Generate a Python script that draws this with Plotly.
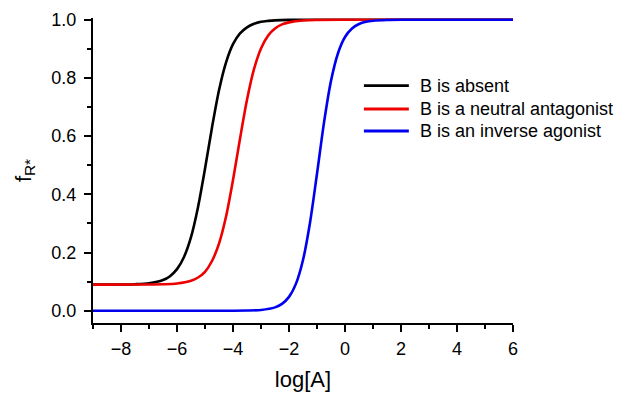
import plotly.graph_objects as go

# Values
x_black = [-9, -8, -7.5, -7, -6.5, -6.25, -6, -5.75, -5.5, -5.25, -5, -4.75, -4.5, -4.25, -4, -3.75, -3.5, -3.25, -3, -2.75, -2.5, -2, -1, 6]
y_black = [0.090, 0.0904, 0.0913, 0.0945, 0.1056, 0.1189, 0.143, 0.185, 0.253, 0.356, 0.488, 0.630, 0.758, 0.853, 0.916, 0.953, 0.974, 0.986, 0.993, 0.996, 0.998, 0.9995, 1.0, 1.0]

x_red = [-9, -7, -6.5, -6, -5.5, -5.25, -5, -4.75, -4.5, -4.25, -4, -3.75, -3.5, -3.25, -3, -2.75, -2.5, -2.25, -2, -1.5, -1, 0, 6]
y_red = [0.090, 0.0903, 0.091, 0.0937, 0.103, 0.1143, 0.134, 0.171, 0.231, 0.323, 0.449, 0.591, 0.725, 0.830, 0.901, 0.945, 0.970, 0.984, 0.991, 0.9975, 0.9992, 1.0, 1.0]

x_blue = [-9, -4, -3.5, -3, -2.5, -2.25, -2, -1.75, -1.5, -1.25, -1, -0.75, -0.5, -0.25, 0, 0.25, 0.5, 0.75, 1, 1.5, 2, 3, 6]
y_blue = [0.0, 0.0002, 0.0007, 0.0028, 0.0117, 0.0238, 0.0477, 0.0933, 0.1745, 0.3027, 0.471, 0.6466, 0.790, 0.885, 0.9406, 0.970, 0.9853, 0.993, 0.9965, 0.9992, 1.0, 1.0, 1.0]

names = ["B is absent", "B is a neutral antagonist", "B is an inverse agonist"]
colors = ["#000000", "#ee0000", "#0000ee"]

FONT = "Liberation Sans, Arial, sans-serif"

fig = go.Figure()
for xs, ys, nm, c in zip([x_black, x_red, x_blue], [y_black, y_red, y_blue], names, colors):
    fig.add_trace(go.Scatter(x=xs, y=ys, mode="lines", name=nm, showlegend=False,
                             line=dict(color=c, width=2.6, shape="spline", smoothing=0.8)))

# Legend drawn as line samples + labels (paper coordinates) for exact row spacing
leg_rows_y = [0.778, 0.7016, 0.6295]
for nm, c, yy in zip(names, colors, leg_rows_y):
    fig.add_shape(type="line", xref="paper", yref="paper", x0=0.645, x1=0.752, y0=yy, y1=yy,
                  line=dict(color=c, width=2.8))
    fig.add_annotation(xref="paper", yref="paper", x=0.774, y=yy, text=nm, showarrow=False,
                       xanchor="left", yanchor="middle",
                       font=dict(size=18, family=FONT, color="black"))

fig.update_layout(
    width=624, height=396,
    margin=dict(l=93, r=111, t=18, b=73, autoexpand=False),
    plot_bgcolor="white", paper_bgcolor="white",
    font=dict(family=FONT, color="black", size=18),
    showlegend=False,
    xaxis=dict(range=[-9, 6], tick0=-8, dtick=2, showgrid=False, zeroline=False,
               showline=True, linecolor="black", linewidth=2,
               ticks="outside", ticklen=7, tickwidth=2, tickcolor="black",
               ticklabelstandoff=1, automargin=False,
               minor=dict(dtick=1, tick0=-9, ticks="outside", ticklen=4, tickwidth=2, tickcolor="black"),
               tickfont=dict(size=18, family=FONT),
               title=dict(text="log[A]", font=dict(size=22, family=FONT), standoff=14)),
    yaxis=dict(range=[-0.042, 1.006], tick0=0, dtick=0.2, tickformat=".1f", showgrid=False, zeroline=False,
               showline=True, linecolor="black", linewidth=2,
               ticks="outside", ticklen=7, tickwidth=2, tickcolor="black",
               ticklabelstandoff=4, automargin=False,
               minor=dict(dtick=0.1, tick0=0, ticks="outside", ticklen=4, tickwidth=2, tickcolor="black"),
               tickfont=dict(size=18, family=FONT),
               title=dict(text="f<sub>R*</sub>", font=dict(size=22, family=FONT), standoff=14)),
)

fig.write_html("out.html")
